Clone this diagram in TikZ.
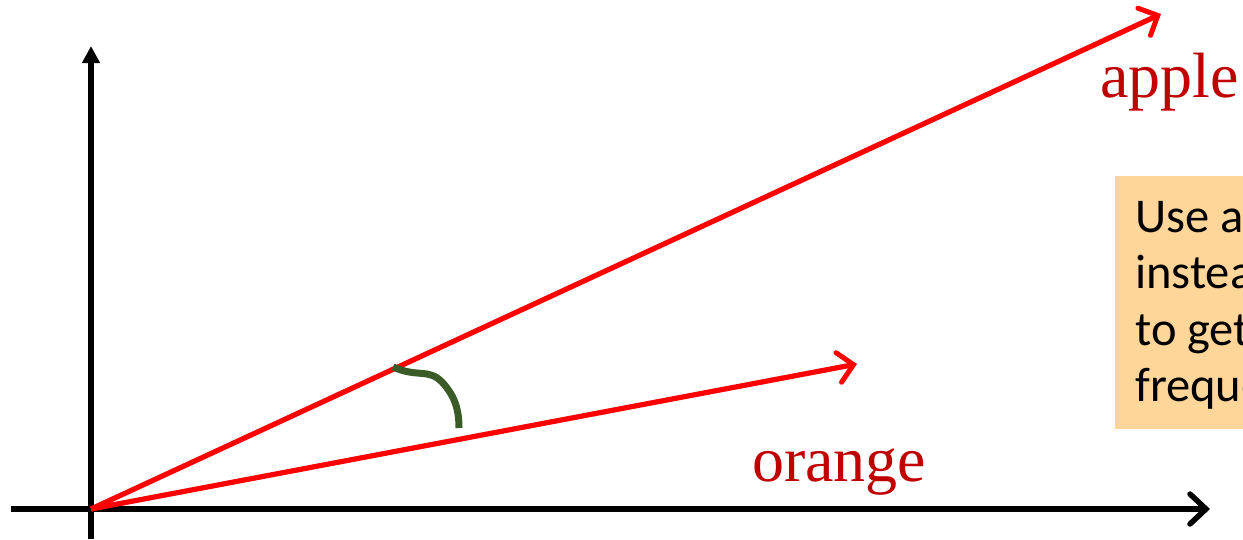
\documentclass[tikz,border=0pt]{standalone}
\usepackage{fontspec}
\setmainfont{Liberation Serif}
\newfontfamily\calibfont{Carlito}
\usetikzlibrary{arrows.meta}
\definecolor{vecred}{HTML}{FF0000}
\definecolor{labred}{HTML}{C00000}
\definecolor{anggreen}{HTML}{3A5A27}
\definecolor{notefill}{HTML}{FFD699}
\tikzset{
  axisline/.style={line width=5.2pt, black},
  vecline/.style={line width=5.2pt, vecred, -{Straight Barb[length=15pt,width=30pt,line width=5pt,line cap=round]}},
  veclabel/.style={text=labred, font=\fontsize{64}{70}\selectfont, anchor=base west, inner sep=0pt},
  notetext/.style={font=\calibfont\fontsize{48.5}{56}\selectfont, anchor=base west, inner sep=0pt},
}
\begin{document}
\begin{tikzpicture}[x=1pt,y=-1pt]
\useasboundingbox (0,0) rectangle (1243,539);
% axes
\coordinate (O) at (91,509);
\coordinate (xs) at (11,509);
\coordinate (xe) at (1210,509);
\coordinate (ys) at (91,539);
\coordinate (ye) at (91,46);
\draw[axisline, -{Straight Barb[length=16pt,width=30pt,line width=5.5pt,line cap=round]}] (xs) -- (xe);
\draw[axisline, -{Triangle[length=17pt,width=17pt]}] (ys) -- (ye);
% vectors
\coordinate (A) at (1161,14);
\coordinate (B) at (857,364);
\draw[vecline] (O) -- (A);
\draw[vecline] (O) -- (B);
% angle
\coordinate (g1) at (393,367);
\coordinate (g2) at (459,428);
\draw[anggreen, line width=7pt] (g1) .. controls (418,378) and (428,368) .. (442,382) .. controls (455,396) and (459,410) .. (g2);
% labels
\node[veclabel] (applelab) at (1100,97) {apple};
\node[veclabel] (orangelab) at (752,481) {orange};
% note box (cut by the page edge)
\begin{scope}
\clip (0,0) rectangle (1243,539);
\fill[notefill] (1115,176) rectangle (1260,429);
\node[notetext] (n1) at (1135,232) {Use an};
\node[notetext] (n2) at (1135,288.5) {instead};
\node[notetext] (n3) at (1135,345) {to get};
\node[notetext] (n4) at (1135,401.5) {frequency};
\end{scope}
\end{tikzpicture}
\end{document}
